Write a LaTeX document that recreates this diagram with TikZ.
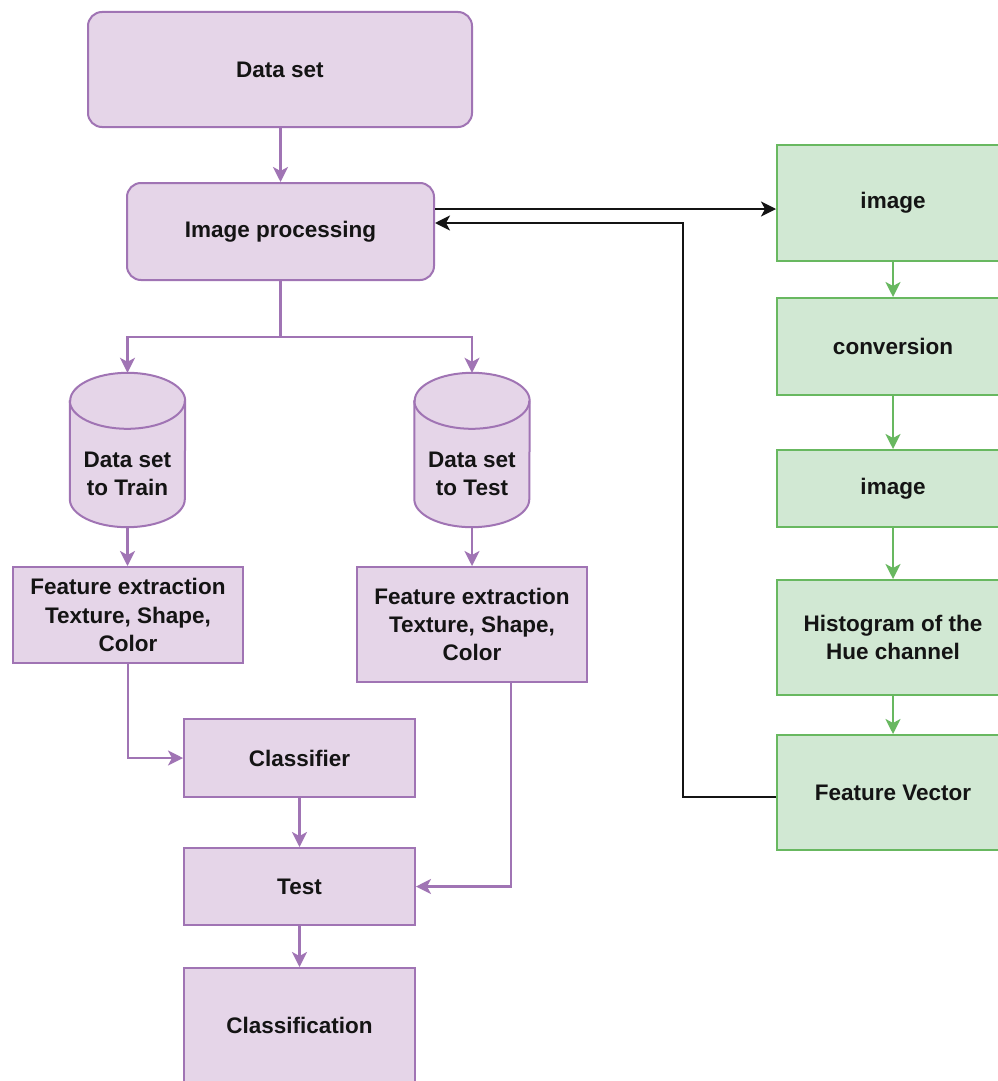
\documentclass[tikz,border=0pt]{standalone}
\usepackage{fontspec}
\setmainfont{Liberation Sans}
\usetikzlibrary{arrows.meta,calc}

\definecolor{pfill}{RGB}{229,213,232}
\definecolor{pline}{RGB}{160,116,180}
\definecolor{gfill}{RGB}{209,232,211}
\definecolor{gline}{RGB}{104,184,96}
\definecolor{ink}{RGB}{20,20,20}

\tikzset{
  lbl/.style={font=\fontsize{22.5}{28.3}\selectfont\bfseries, text=ink, align=center, inner sep=0pt},
  pbox/.style={lbl, draw=pline, fill=pfill, line width=2pt},
  pround/.style={pbox, rounded corners=14pt},
  gbox/.style={lbl, draw=gline, fill=gfill, line width=2pt, minimum width=232pt},
  head/.style={-{Stealth[length=15pt,width=15pt,inset=4pt]}},
  parrow/.style={draw=pline, line width=2.2pt, head, color=pline},
  plinks/.style={draw=pline, line width=2.2pt},
  garrow/.style={draw=gline, line width=2.2pt, head, color=gline},
  karrow/.style={draw=ink, line width=2pt, head, color=ink},
  holder/.style={lbl, minimum width=115pt, minimum height=154pt},
}

\begin{document}
\begin{tikzpicture}[x=1pt,y=-1pt]
  \clip (0,0) rectangle (998,1081);
  \fill[white] (0,0) rectangle (998,1081);

  % main pipeline
  \node[pround, minimum width=384pt, minimum height=115pt] (ds) at (280,69.5) {Data set};
  \node[pround, minimum width=307pt, minimum height=97pt] (ip) at (280.5,231.5) {Image processing};

  % storage cylinders (outline drawn by hand, nodes carry the anchors)
  \node[holder] (trn) at (127.5,450) {};
  \node[holder] (tst) at (472,450) {};
  \foreach \c in {trn,tst}{
    \path[fill=pfill, draw=pline, line width=2pt]
      ($(\c.north west)+(0,28)$) -- ($(\c.south west)+(0,-28)$)
      arc[start angle=180, end angle=0, x radius=57.5, y radius=28]
      -- ($(\c.north east)+(0,28)$)
      arc[start angle=0, end angle=-180, x radius=57.5, y radius=28] -- cycle;
    \draw[pline, line width=2pt] ($(\c.north west)+(0,28)$)
      arc[start angle=180, end angle=0, x radius=57.5, y radius=28];
  }
  \node[lbl] at ($(trn.center)+(0,24)$) {Data set\\to Train};
  \node[lbl] at ($(tst.center)+(0,24)$) {Data set\\to Test};

  \node[pbox, minimum width=230pt, minimum height=96pt] (fe1) at (128,615) {Feature extraction\\Texture, Shape,\\Color};
  \node[pbox, minimum width=230pt, minimum height=115pt] (fe2) at (472,624.5) {Feature extraction\\Texture, Shape,\\Color};
  \node[pbox, minimum width=231pt, minimum height=78pt] (cls) at (299.5,758) {Classifier};
  \node[pbox, minimum width=231pt, minimum height=77pt] (tes) at (299.5,886.5) {Test};
  \node[pbox, minimum width=231pt, minimum height=115pt] (out) at (299.5,1025.5) {Classification};

  % colour-feature branch
  \node[gbox, minimum height=116pt] (im1) at (893,203) {image};
  \node[gbox, minimum height=97pt] (cnv) at (893,346.5) {conversion};
  \node[gbox, minimum height=77pt] (im2) at (893,488.5) {image};
  \node[gbox, minimum height=115pt] (hst) at (893,637.5) {Histogram of the\\Hue channel};
  \node[gbox, minimum height=115pt] (fv) at (893,792.5) {Feature Vector};

  % connectors of the main pipeline
  \draw[parrow] (ds.south -| ip.north) -- (ip.north);
  \coordinate (fork) at (280.5,337);
  \draw[plinks] (ip.south) -- (fork);
  \draw[parrow] (fork) -| (trn.north);
  \draw[parrow] (fork) -| (tst.north);
  \draw[parrow] (trn.south) -- (fe1.north -| trn.south);
  \draw[parrow] (tst.south) -- (fe2.north -| tst.south);
  \draw[parrow] (fe1.south) |- (cls.west);
  \draw[parrow] ([xshift=39pt]fe2.south) |- (tes.east);
  \draw[parrow] (cls.south) -- (tes.north);
  \draw[parrow] (tes.south) -- (out.north);

  % connectors of the colour-feature branch
  \draw[garrow] (im1.south) -- (cnv.north);
  \draw[garrow] (cnv.south) -- (im2.north);
  \draw[garrow] (im2.south) -- (hst.north);
  \draw[garrow] (hst.south) -- (fv.north);

  % hand-over between the two parts
  \coordinate (bend) at (683,0);
  \draw[karrow] ([yshift=22.5pt]ip.east) -- ([yshift=22.5pt]ip.east -| im1.west);
  \draw[karrow] ([yshift=-4.5pt]fv.west) -| ([yshift=8.5pt]ip.east -| bend) -- ([yshift=8.5pt]ip.east);
\end{tikzpicture}
\end{document}
